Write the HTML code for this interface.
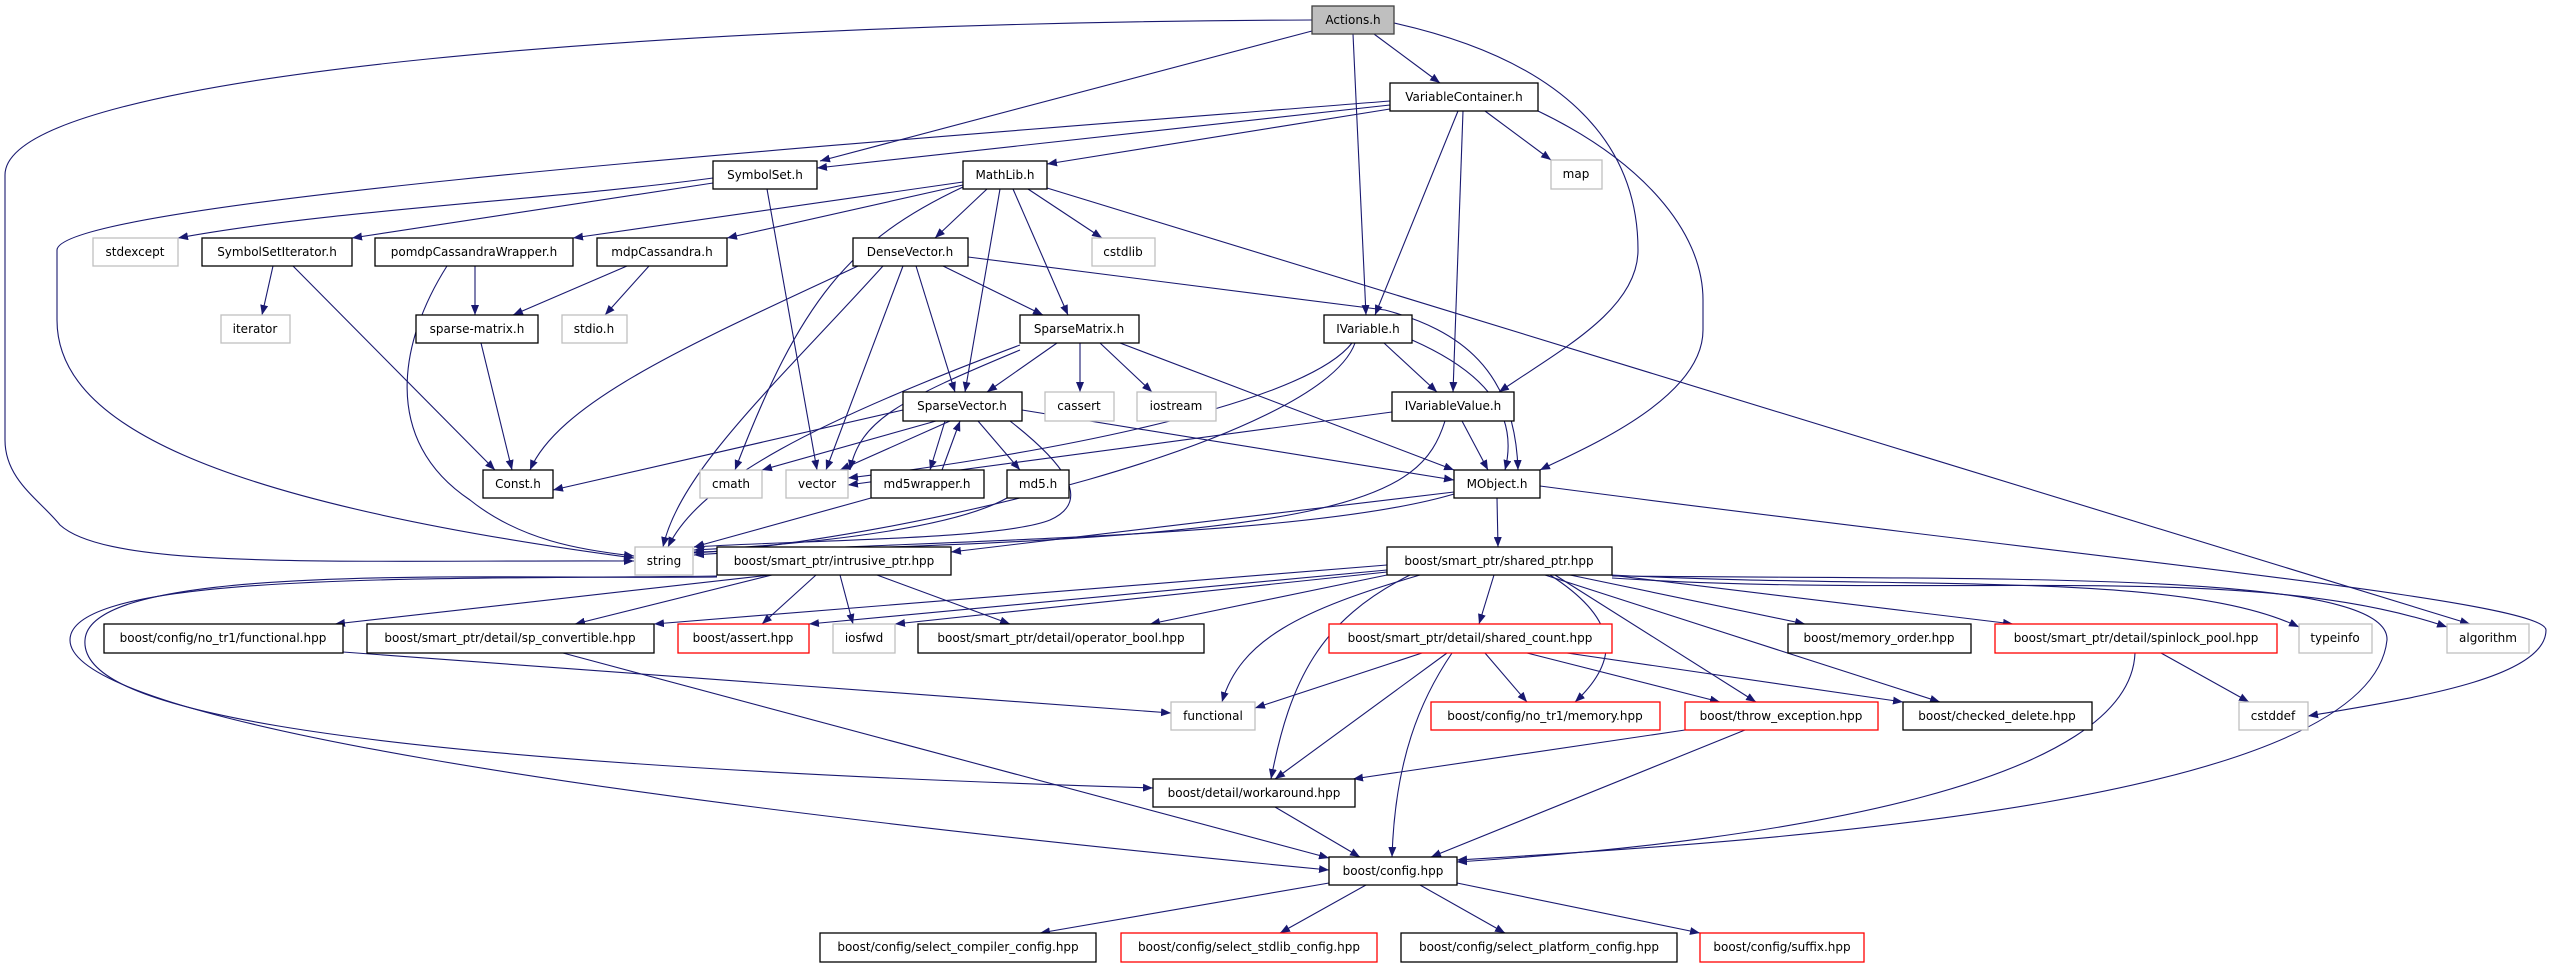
<!DOCTYPE html>
<html><head><meta charset="utf-8"><style>
html,body{margin:0;padding:0;background:#fff;}
svg{display:block;}
text{font-family:"DejaVu Sans","Liberation Sans",sans-serif;font-size:12px;fill:#000;text-anchor:middle;}
.e{fill:none;stroke:#191970;stroke-width:1.1;}
.b{fill:#fff;stroke:#000;stroke-width:1.3;}
.g{fill:#fff;stroke:#bfbfbf;stroke-width:1.3;}
.r{fill:#fff;stroke:#ff0000;stroke-width:1.3;}
</style></head><body>
<svg width="2553" height="968" viewBox="0 0 2553 968" xmlns="http://www.w3.org/2000/svg">
<defs><marker id="a" viewBox="0 0 10 8" refX="10" refY="4" markerWidth="10" markerHeight="8" markerUnits="userSpaceOnUse" orient="auto"><path d="M0,0 L10,4 L0,8 z" fill="#191970"/></marker></defs>
<g marker-end="url(#a)">
<!-- Actions.h -->
<path class="e" d="M1312,20 C700,22 5,70 5,175 L5,440 C5,480 40,500 60,525 C110,570 330,560 634,561"/>
<path class="e" d="M1312,31 L820,161"/>
<path class="e" d="M1374,34 L1440,83"/>
<path class="e" d="M1353,34 L1366,315"/>
<path class="e" d="M1394,23 C1560,60 1638,140 1638,250 C1638,310 1560,350 1499,392"/>
<!-- VariableContainer.h -->
<path class="e" d="M1390,101 C900,140 60,200 57,250 L57,320 C57,420 200,500 634,558"/>
<path class="e" d="M1390,105 L817,168"/>
<path class="e" d="M1390,109 L1047,164"/>
<path class="e" d="M1485,111 L1551,160"/>
<path class="e" d="M1458,111 L1375,315"/>
<path class="e" d="M1463,111 L1453,392"/>
<path class="e" d="M1538,111 C1640,160 1703,230 1703,300 L1703,330 C1703,400 1580,450 1540,470"/>
<!-- SymbolSet.h -->
<path class="e" d="M713,178 C550,200 330,210 178,238"/>
<path class="e" d="M713,183 L352,238"/>
<path class="e" d="M767,189 L817,470"/>
<!-- MathLib.h -->
<path class="e" d="M963,182 L573,238"/>
<path class="e" d="M963,185 L727,238"/>
<path class="e" d="M987,189 L935,238"/>
<path class="e" d="M963,187 C850,240 800,300 735,470"/>
<path class="e" d="M1000,189 L965,392"/>
<path class="e" d="M1013,189 L1068,315"/>
<path class="e" d="M1028,189 L1102,238"/>
<path class="e" d="M1047,188 L2470,624"/>
<!-- SymbolSetIterator.h -->
<path class="e" d="M273,266 L262,315"/>
<path class="e" d="M293,266 L495,470"/>
<!-- pomdpCassandraWrapper.h -->
<path class="e" d="M475,266 L475,315"/>
<path class="e" d="M447,266 C400,340 380,440 470,500 C520,540 580,550 634,556"/>
<!-- mdpCassandra.h -->
<path class="e" d="M627,266 L513,315"/>
<path class="e" d="M649,266 L605,315"/>
<!-- DenseVector.h -->
<path class="e" d="M858,266 C700,340 560,400 530,470"/>
<path class="e" d="M883,266 C780,380 680,470 663,547"/>
<path class="e" d="M903,266 L826,470"/>
<path class="e" d="M916,266 L955,392"/>
<path class="e" d="M943,266 L1043,315"/>
<path class="e" d="M968,257 L1385,310 C1460,330 1515,370 1518,470"/>
<!-- sparse-matrix.h -->
<path class="e" d="M481,343 L512,470"/>
<!-- SparseMatrix.h -->
<path class="e" d="M1057,343 L987,392"/>
<path class="e" d="M1080,343 L1080,392"/>
<path class="e" d="M1100,343 L1152,392"/>
<path class="e" d="M1120,343 L1454,470"/>
<path class="e" d="M1020,350 C900,400 860,420 850,470"/>
<path class="e" d="M1020,345 C820,420 700,480 668,547"/>
<!-- SparseVector.h -->
<path class="e" d="M903,410 L553,490"/>
<path class="e" d="M936,421 L762,470"/>
<path class="e" d="M950,421 L840,470"/>
<path class="e" d="M945,421 L930,470"/>
<path class="e" d="M942,470 L960,421"/>
<path class="e" d="M978,421 L1020,470"/>
<path class="e" d="M1022,410 L1454,480"/>
<path class="e" d="M1010,421 C1060,460 1095,500 1050,520 C1000,540 800,540 694,547"/>
<path class="e" d="M871,498 L694,547"/>
<path class="e" d="M1007,498 C950,530 800,545 694,550"/>
<!-- IVariable.h -->
<path class="e" d="M1384,343 L1437,392"/>
<path class="e" d="M1412,340 C1480,370 1520,410 1505,470"/>
<path class="e" d="M1352,343 C1300,410 1000,460 848,478"/>
<path class="e" d="M1355,343 C1320,440 900,540 694,553"/>
<!-- IVariableValue.h -->
<path class="e" d="M1392,412 L848,485"/>
<path class="e" d="M1462,421 L1488,470"/>
<path class="e" d="M1445,421 C1420,500 1350,540 694,552"/>
<!-- MObject.h -->
<path class="e" d="M1454,494 C1300,540 900,540 694,555"/>
<path class="e" d="M1454,492 L951,552"/>
<path class="e" d="M1497,498 L1498,547"/>
<path class="e" d="M1540,486 C2100,560 2546,600 2546,630 C2546,680 2400,700 2308,716"/>
<!-- intrusive_ptr -->
<path class="e" d="M770,575 L335,624"/>
<path class="e" d="M772,575 L575,624"/>
<path class="e" d="M816,575 L762,624"/>
<path class="e" d="M840,575 L853,624"/>
<path class="e" d="M877,575 L1010,624"/>
<path class="e" d="M717,577 C500,580 90,560 85,640 C80,700 250,760 1153,788"/>
<path class="e" d="M717,576 C450,580 70,570 70,640 C70,720 600,800 1329,870"/>
<!-- shared_ptr -->
<path class="e" d="M1387,565 L654,624"/>
<path class="e" d="M1387,570 L809,624"/>
<path class="e" d="M1387,572 L895,624"/>
<path class="e" d="M1387,575 L1150,624"/>
<path class="e" d="M1420,575 C1300,610 1240,640 1222,702"/>
<path class="e" d="M1410,575 C1320,620 1290,680 1271,779"/>
<path class="e" d="M1494,575 L1479,624"/>
<path class="e" d="M1550,575 C1620,620 1620,660 1575,702"/>
<path class="e" d="M1555,575 L1756,702"/>
<path class="e" d="M1545,575 L1940,702"/>
<path class="e" d="M1570,575 L1805,624"/>
<path class="e" d="M1610,575 L2013,624"/>
<path class="e" d="M1612,575 C1900,590 2180,570 2299,627"/>
<path class="e" d="M1612,578 C1950,600 2250,560 2447,627"/>
<path class="e" d="M1612,576 C2000,580 2390,570 2387,640 C2370,800 1800,840 1457,860"/>
<!-- shared_count -->
<path class="e" d="M1422,653 L1255,708"/>
<path class="e" d="M1447,653 L1275,779"/>
<path class="e" d="M1452,653 C1420,700 1395,760 1392,857"/>
<path class="e" d="M1485,653 L1527,702"/>
<path class="e" d="M1527,653 L1720,702"/>
<path class="e" d="M1567,653 L1903,702"/>
<!-- spinlock_pool -->
<path class="e" d="M2161,653 L2249,702"/>
<path class="e" d="M2135,653 C2130,780 1800,840 1457,862"/>
<!-- throw_exception -->
<path class="e" d="M1685,730 L1353,779"/>
<path class="e" d="M1745,730 L1431,857"/>
<!-- misc -->
<path class="e" d="M343,652 L1171,713"/>
<path class="e" d="M563,653 L1329,858"/>
<path class="e" d="M1275,807 L1360,857"/>
<!-- config.hpp -->
<path class="e" d="M1329,883 L1040,933"/>
<path class="e" d="M1366,885 L1280,933"/>
<path class="e" d="M1420,885 L1505,933"/>
<path class="e" d="M1457,883 L1700,933"/>
</g>
<!-- nodes -->
<g>
<rect x="1312" y="6" width="82" height="28" fill="#bfbfbf" stroke="#404040" stroke-width="1.3"/><text x="1353" y="24">Actions.h</text>
<rect class="b" x="1390" y="83" width="148" height="28"/><text x="1464" y="101">VariableContainer.h</text>
<rect class="g" x="1551" y="160" width="51" height="29"/><text x="1576" y="178">map</text>
<rect class="b" x="713" y="161" width="104" height="28"/><text x="765" y="179">SymbolSet.h</text>
<rect class="b" x="963" y="161" width="84" height="28"/><text x="1005" y="179">MathLib.h</text>
<rect class="g" x="93" y="238" width="85" height="28"/><text x="135" y="256">stdexcept</text>
<rect class="b" x="202" y="238" width="150" height="28"/><text x="277" y="256">SymbolSetIterator.h</text>
<rect class="b" x="375" y="238" width="198" height="28"/><text x="474" y="256">pomdpCassandraWrapper.h</text>
<rect class="b" x="597" y="238" width="130" height="28"/><text x="662" y="256">mdpCassandra.h</text>
<rect class="b" x="853" y="238" width="115" height="28"/><text x="910" y="256">DenseVector.h</text>
<rect class="g" x="1092" y="238" width="63" height="28"/><text x="1123" y="256">cstdlib</text>
<rect class="g" x="221" y="315" width="69" height="28"/><text x="255" y="333">iterator</text>
<rect class="b" x="416" y="315" width="122" height="28"/><text x="477" y="333">sparse-matrix.h</text>
<rect class="g" x="562" y="315" width="65" height="28"/><text x="594" y="333">stdio.h</text>
<rect class="b" x="1020" y="315" width="119" height="28"/><text x="1079" y="333">SparseMatrix.h</text>
<rect class="b" x="1324" y="315" width="88" height="28"/><text x="1368" y="333">IVariable.h</text>
<rect class="b" x="903" y="392" width="119" height="29"/><text x="962" y="410">SparseVector.h</text>
<rect class="g" x="1045" y="392" width="69" height="29"/><text x="1079" y="410">cassert</text>
<rect class="g" x="1137" y="392" width="79" height="29"/><text x="1176" y="410">iostream</text>
<rect class="b" x="1392" y="392" width="122" height="29"/><text x="1453" y="410">IVariableValue.h</text>
<rect class="b" x="483" y="470" width="70" height="28"/><text x="518" y="488">Const.h</text>
<rect class="g" x="700" y="470" width="62" height="28"/><text x="731" y="488">cmath</text>
<rect class="g" x="786" y="470" width="62" height="28"/><text x="817" y="488">vector</text>
<rect class="b" x="871" y="470" width="113" height="28"/><text x="927" y="488">md5wrapper.h</text>
<rect class="b" x="1007" y="470" width="62" height="28"/><text x="1038" y="488">md5.h</text>
<rect class="b" x="1454" y="470" width="86" height="28"/><text x="1497" y="488">MObject.h</text>
<rect class="g" x="635" y="547" width="58" height="28"/><text x="664" y="565">string</text>
<rect class="b" x="717" y="547" width="234" height="28"/><text x="834" y="565">boost/smart_ptr/intrusive_ptr.hpp</text>
<rect class="b" x="1387" y="547" width="225" height="28"/><text x="1499" y="565">boost/smart_ptr/shared_ptr.hpp</text>
<rect class="b" x="104" y="624" width="239" height="29"/><text x="223" y="642">boost/config/no_tr1/functional.hpp</text>
<rect class="b" x="367" y="624" width="287" height="29"/><text x="510" y="642">boost/smart_ptr/detail/sp_convertible.hpp</text>
<rect class="r" x="678" y="624" width="131" height="29"/><text x="743" y="642">boost/assert.hpp</text>
<rect class="g" x="833" y="624" width="62" height="29"/><text x="864" y="642">iosfwd</text>
<rect class="b" x="918" y="624" width="286" height="29"/><text x="1061" y="642">boost/smart_ptr/detail/operator_bool.hpp</text>
<rect class="r" x="1329" y="624" width="283" height="29"/><text x="1470" y="642">boost/smart_ptr/detail/shared_count.hpp</text>
<rect class="b" x="1788" y="624" width="183" height="29"/><text x="1879" y="642">boost/memory_order.hpp</text>
<rect class="r" x="1995" y="624" width="282" height="29"/><text x="2136" y="642">boost/smart_ptr/detail/spinlock_pool.hpp</text>
<rect class="g" x="2299" y="624" width="73" height="29"/><text x="2335" y="642">typeinfo</text>
<rect class="g" x="2447" y="624" width="82" height="29"/><text x="2488" y="642">algorithm</text>
<rect class="g" x="1171" y="702" width="84" height="28"/><text x="1213" y="720">functional</text>
<rect class="r" x="1431" y="702" width="229" height="28"/><text x="1545" y="720">boost/config/no_tr1/memory.hpp</text>
<rect class="r" x="1685" y="702" width="193" height="28"/><text x="1781" y="720">boost/throw_exception.hpp</text>
<rect class="b" x="1903" y="702" width="189" height="28"/><text x="1997" y="720">boost/checked_delete.hpp</text>
<rect class="g" x="2239" y="702" width="69" height="28"/><text x="2273" y="720">cstddef</text>
<rect class="b" x="1153" y="779" width="202" height="28"/><text x="1254" y="797">boost/detail/workaround.hpp</text>
<rect class="b" x="1329" y="857" width="128" height="28"/><text x="1393" y="875">boost/config.hpp</text>
<rect class="b" x="820" y="933" width="276" height="29"/><text x="958" y="951">boost/config/select_compiler_config.hpp</text>
<rect class="r" x="1121" y="933" width="256" height="29"/><text x="1249" y="951">boost/config/select_stdlib_config.hpp</text>
<rect class="b" x="1401" y="933" width="276" height="29"/><text x="1539" y="951">boost/config/select_platform_config.hpp</text>
<rect class="r" x="1700" y="933" width="164" height="29"/><text x="1782" y="951">boost/config/suffix.hpp</text>
</g>
</svg>
</body></html>
